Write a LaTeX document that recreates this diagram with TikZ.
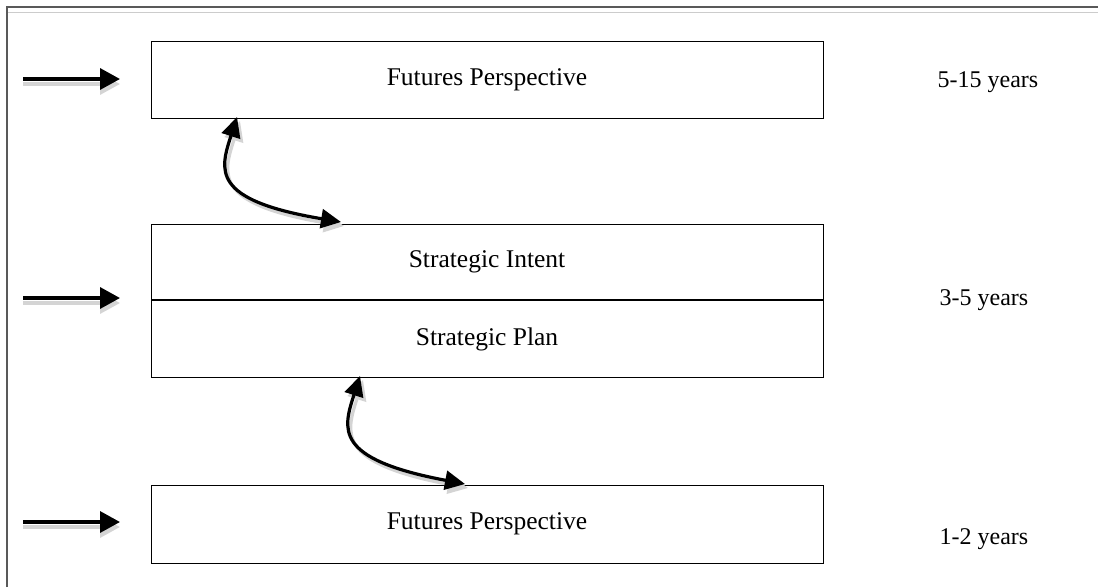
\documentclass[tikz,border=0pt]{standalone}
\usepackage{fontspec}
\setmainfont{Liberation Serif}
\usetikzlibrary{arrows.meta}
\begin{document}
\begin{tikzpicture}[x=1pt,y=-1pt,
  boxnode/.style={draw=black,line width=1.4pt,minimum width=672pt,inner sep=0pt,anchor=north west},
  lbl/.style={font=\fontsize{25.5}{28}\selectfont,anchor=base,inner sep=0pt},
  ylbl/.style={font=\fontsize{24}{26}\selectfont,anchor=base,inner sep=0pt},
  arr/.style={line width=3.4pt,-{Triangle[length=20pt,width=21pt]}},
  darr/.style={line width=3.2pt,{Triangle[length=20pt,width=19pt]}-{Triangle[length=20pt,width=19pt]}},
]
\useasboundingbox (0,0) rectangle (1098,587);
% outer frame (open at right and bottom)
\draw[black!65,line width=1.6pt] (7,587) -- (7,7) -- (1098,7);
\draw[black!20,line width=1pt] (8,12) -- (1098,12);

% boxes
\node[boxnode,minimum height=77pt] (b1) at (151,41) {};
\node[boxnode,minimum height=153pt] (b2) at (151,224) {};
\node[boxnode,minimum height=78pt] (b3) at (151,485) {};
\draw[line width=1.4pt] (b2.west |- 0,300) coordinate (d1) -- (b2.east |- 0,300) coordinate (d2);

% texts
\node[lbl] (t1) at (487,85) {Futures Perspective};
\node[lbl] (t2) at (487,267) {Strategic Intent};
\node[lbl] (t3) at (487,345) {Strategic Plan};
\node[lbl] (t4) at (487,529) {Futures Perspective};
\node[ylbl] (y1) at (988,87) {5-15 years};
\node[ylbl] (y2) at (984,305) {3-5 years};
\node[ylbl] (y3) at (984,544) {1-2 years};

% left arrows
\coordinate (s1) at (23,79); \coordinate (e1) at (120,79);
\coordinate (s2) at (23,298); \coordinate (e2) at (120,298);
\coordinate (s3) at (23,522); \coordinate (e3) at (120,522);
\foreach \s/\e in {s1/e1,s2/e2,s3/e3}{
  \draw[arr,black!17,transform canvas={shift={(0pt,-5pt)}}] (\s) -- (\e);
  \draw[arr] (\s) -- (\e);
}

% curved double arrows
\coordinate (c1a) at (237,117); \coordinate (c1b) at (341,222);
\coordinate (c2a) at (360,376); \coordinate (c2b) at (465,484);
\draw[darr,black!17,transform canvas={shift={(3pt,-4pt)}}] (c1a) .. controls (220,170) and (210,200) .. (c1b);
\draw[darr] (c1a) .. controls (220,170) and (210,200) .. (c1b);
\draw[darr,black!17,transform canvas={shift={(3pt,-4pt)}}] (c2a) .. controls (343,429) and (333,459) .. (c2b);
\draw[darr] (c2a) .. controls (343,429) and (333,459) .. (c2b);
\end{tikzpicture}
\end{document}
